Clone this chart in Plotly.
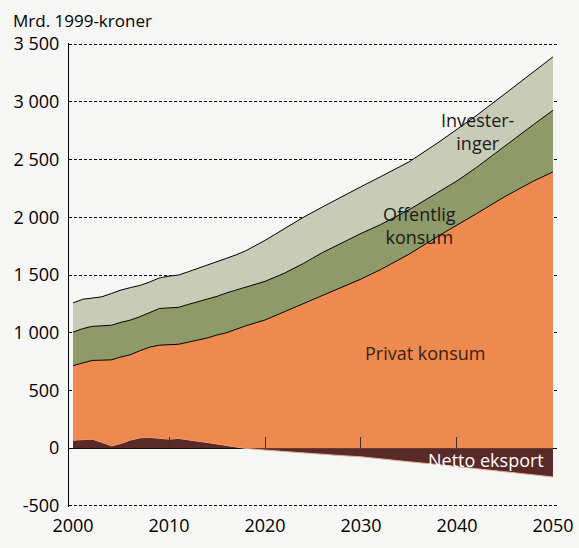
import plotly.graph_objects as go

# ---- data (Mrd. 1999-kroner) ----
years = [2000, 2001, 2002, 2003, 2004, 2005, 2006, 2007, 2008, 2009,
         2010, 2011, 2012, 2013, 2014, 2015, 2016, 2017, 2018,
         2020, 2022, 2024, 2026, 2028, 2030, 2032, 2035, 2038, 2040,
         2042, 2045, 2048, 2050]
netto_eksport = [69, 75, 78, 50, 20, 40, 70, 90, 93, 85,
                 78, 84, 75, 60, 49, 35, 20, 10, -3,
                 -17, -30, -42, -55, -65, -75, -90, -118, -142, -160,
                 -178, -205, -232, -250]
privat_konsum = [646, 665, 682, 712, 745, 750, 740, 755, 782, 807,
                 817, 816, 843, 875, 906, 945, 980, 1020, 1060,
                 1110, 1180, 1250, 1320, 1390, 1465, 1545, 1680, 1835, 1930,
                 2030, 2180, 2315, 2393]
offentlig_konsum = [290, 295, 295, 295, 300, 300, 300, 295, 300, 318,
                    320, 320, 327, 332, 335, 335, 345, 340, 330,
                    335, 335, 350, 375, 390, 395, 390, 385, 380, 385,
                    400, 440, 490, 534]
investeringer = [253, 255, 245, 254, 275, 280, 281, 270, 265, 265,
                 275, 280, 283, 289, 295, 299, 300, 305, 320,
                 355, 385, 400, 395, 400, 405, 415, 415, 430, 445,
                 450, 450, 455, 463]

y_tickvals = [-500, 0, 500, 1000, 1500, 2000, 2500, 3000, 3500]
y_ticktext = ["-500", "0", "500", "1 000", "1 500", "2 000", "2 500", "3 000", "3 500"]
x_tickvals = [2000, 2010, 2020, 2030, 2040, 2050]
x_ticktext = ["2000", "2010", "2020", "2030", "2040", "2050"]
zero_tickvals = [2010, 2020, 2030, 2040]

labels = {
    "inv": "Invester-<br>inger",
    "off": "Offentlig<br>konsum",
    "priv": "Privat konsum",
    "netto": "Netto eksport",
}

# ---- stacking ----
base = [max(n, 0) for n in netto_eksport]
t1 = [b + p for b, p in zip(base, privat_konsum)]
t2 = [a + o for a, o in zip(t1, offentlig_konsum)]
t3 = [a + i for a, i in zip(t2, investeringer)]

C_NETTO = "#5a2a28"
C_PRIV = "#ee8a50"
C_OFF = "#8e9a68"
C_INV = "#c8ccb6"
BG = "#f6f6f4"
FONT = "Open Sans"

fig = go.Figure()
fig.add_trace(go.Scatter(x=years, y=netto_eksport, mode="lines", fill="tozeroy",
                         fillcolor=C_NETTO, line=dict(color="#e7b293", width=1),
                         hoverinfo="skip", showlegend=False))
fig.add_trace(go.Scatter(x=years, y=base, mode="lines",
                         line=dict(color="rgba(0,0,0,0)", width=0),
                         hoverinfo="skip", showlegend=False))
fig.add_trace(go.Scatter(x=years, y=t1, mode="lines", fill="tonexty",
                         fillcolor=C_PRIV, line=dict(color="black", width=1),
                         hoverinfo="skip", showlegend=False))
fig.add_trace(go.Scatter(x=years, y=t2, mode="lines", fill="tonexty",
                         fillcolor=C_OFF, line=dict(color="black", width=1),
                         hoverinfo="skip", showlegend=False))
fig.add_trace(go.Scatter(x=years, y=t3, mode="lines", fill="tonexty",
                         fillcolor=C_INV, line=dict(color="black", width=1),
                         hoverinfo="skip", showlegend=False))
# helper trace so the zero-line tick axis is drawn
fig.add_trace(go.Scatter(x=years[:1], y=[0], mode="lines", xaxis="x2",
                         line=dict(width=0), hoverinfo="skip", showlegend=False))

W, H = 579, 548
xr = [1999.58, 2050.42]
yr = [-510, 3510]
fig.update_layout(
    width=W, height=H,
    margin=dict(l=69, r=22, t=43, b=41, autoexpand=False),
    paper_bgcolor=BG, plot_bgcolor=BG,
    font=dict(family=FONT, size=17, color="black"),
    title=dict(text="Mrd. 1999-kroner", x=13 / W, xanchor="left",
               y=1 - 21 / H, yanchor="middle", automargin=False,
               font=dict(family=FONT, size=17, color="black")),
    xaxis=dict(range=xr, tickvals=x_tickvals, ticktext=x_ticktext,
               showgrid=False, zeroline=False, showline=False, ticks="",
               ticklabelstandoff=6, tickfont=dict(size=18), automargin=False),
    xaxis2=dict(range=xr, overlaying="x", anchor="free",
                position=(0 - yr[0]) / (yr[1] - yr[0]),
                side="top", tickvals=zero_tickvals, ticks="outside",
                ticklen=11, tickcolor="#333", tickwidth=1,
                showticklabels=False, showgrid=False, zeroline=False,
                showline=False, automargin=False),
    yaxis=dict(range=yr, tickvals=y_tickvals, ticktext=y_ticktext,
               showgrid=True, gridcolor="black", gridwidth=1,
               griddash="3px,2px", zeroline=True, zerolinecolor="black",
               zerolinewidth=1, showline=True, linecolor="black",
               linewidth=1, ticks="", ticklabelstandoff=5,
               tickfont=dict(size=18), automargin=False),
    annotations=[
        dict(x=2042.2, y=2745, xref="x", yref="y", text=labels["inv"],
             showarrow=False, font=dict(size=18, color="#1a1a1a")),
        dict(x=2036.1, y=1931, xref="x", yref="y", text=labels["off"],
             showarrow=False, font=dict(size=18, color="#1a1a1a")),
        dict(x=2036.7, y=823, xref="x", yref="y", text=labels["priv"],
             showarrow=False, font=dict(size=18, color="#3a2010")),
        dict(x=2050, y=-100, xref="x", yref="y", xanchor="right", xshift=-7,
             text=labels["netto"],
             showarrow=False, font=dict(size=18, color="white")),
    ],
)

# remove the browser's default 8px body margin so the figure fills the window
fig.write_html(
    "out.html",
    config={"displayModeBar": False},
    post_script="document.body.style.margin='0';"
                "document.body.style.background='%s';" % BG,
)
